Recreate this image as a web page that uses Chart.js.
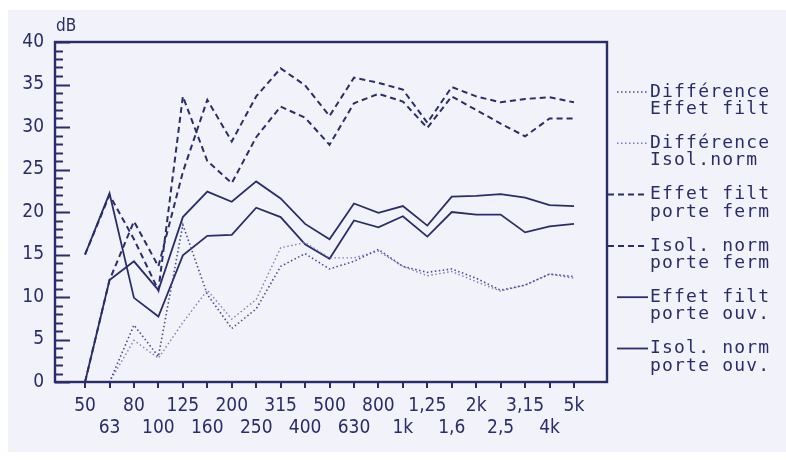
<!DOCTYPE html>
<html><head><meta charset="utf-8">
<script src="https://cdn.jsdelivr.net/npm/chart.js@4"></script>
<style>html,body{margin:0;padding:0;background:#fff}#c{display:block}</style>
</head><body><canvas id="c" width="786" height="460"></canvas>
<script>
const categories = ['50','63','80','100','125','160','200','250','315','400','500','630','800','1k','1,25','1,6','2k','2,5','3,15','4k','5k'];
const yTicks = [0,5,10,15,20,25,30,35,40];
const diffEffetFilt   = [0, 0, 6.7, 3.0, 18.5, 10.3, 6.3, 8.6, 13.6, 15.1, 13.3, 14.2, 15.6, 13.6, 12.9, 13.3, 12.2, 10.8, 11.4, 12.7, 12.4];
const diffIsolNorm    = [0, 0, 4.9, 2.8, 7.0, 10.8, 7.4, 9.7, 15.8, 16.4, 14.6, 14.6, 15.4, 13.6, 12.5, 13.0, 11.8, 10.7, 11.4, 12.7, 12.2];
const effetFiltFerm   = [15, 22.0, 16.8, 10.8, 33.6, 26.0, 23.4, 28.8, 32.4, 31.1, 27.9, 32.8, 33.9, 33.0, 29.9, 33.6, 32.0, 30.4, 28.9, 31.0, 31.0];
const isolNormFerm    = [0, 12.0, 18.9, 13.6, 24.7, 33.2, 28.3, 33.6, 36.9, 34.9, 31.3, 35.8, 35.2, 34.4, 30.5, 34.7, 33.6, 32.9, 33.3, 33.5, 32.9];
const effetFiltOuv    = [15, 22.2, 9.9, 7.7, 14.9, 17.2, 17.3, 20.5, 19.4, 16.2, 14.5, 19.0, 18.2, 19.5, 17.1, 20.0, 19.7, 19.7, 17.6, 18.3, 18.6];
const isolNormOuv     = [0, 12.0, 14.2, 10.8, 19.4, 22.4, 21.2, 23.6, 21.6, 18.6, 16.8, 21.0, 19.9, 20.7, 18.4, 21.8, 21.9, 22.1, 21.7, 20.8, 20.7];

const INK = '#2b2c6a';
const TXT = '#2b2c6c';
const BG = '#f2f2fa';
const pts = a => a.map((v, i) => ({x: i, y: v}));

const paper = {
  id: 'paper',
  beforeDraw(chart) {
    const c = chart.ctx;
    c.save();
    c.fillStyle = '#ffffff';
    c.fillRect(0, 0, chart.width, chart.height);
    c.fillStyle = BG;
    c.fillRect(8, 10, chart.width - 8, chart.height - 18);
    c.restore();
  },
  afterDraw(chart) {
    const c = chart.ctx, a = chart.chartArea, ys = chart.scales.y;
    c.save();
    c.strokeStyle = INK;
    c.lineWidth = 2.4;
    c.strokeRect(a.left, a.top, a.right - a.left, a.bottom - a.top);
    c.lineWidth = 2;
    for (let v = 0; v <= 40; v++) {
      const y = Math.round(ys.getPixelForValue(v)) + 0.5;
      const len = v % 5 === 0 ? 15 : 8;
      c.beginPath(); c.moveTo(a.left, y); c.lineTo(a.left + len, y); c.stroke();
    }
    c.fillStyle = TXT;
    c.font = '17px "DejaVu Sans Condensed", "DejaVu Sans"';
    c.textBaseline = 'bottom';
    c.textAlign = 'left';
    c.fillText('dB', a.left + 1, a.top - 7);
    // legend
    const x0 = a.right + 4, x1 = a.right + 41, tx = a.right + 43;
    c.font = '18px "DejaVu Sans Mono"';
    c.letterSpacing = '1.2px';
    c.textBaseline = 'middle';
    chart.data.datasets.forEach((ds, i) => {
      const y = a.top + 50 + i * 51.3;
      c.save();
      c.strokeStyle = ds.borderColor;
      c.lineWidth = ds.borderWidth;
      c.setLineDash(ds.borderDash || []);
      c.beginPath(); c.moveTo(ds.borderDash && ds.borderDash[0] > 3 ? a.right + 1 : x0 + 6, y); c.lineTo(x1, y); c.stroke();
      c.restore();
      ds.label.split('\n').forEach((t, k) => c.fillText(t, tx, y + k * 17.5));
    });
    c.restore();
  }
};

new Chart(document.getElementById('c'), {
  type: 'line',
  plugins: [paper],
  data: {
    datasets: [
      {label: 'Différence\nEffet filt', data: pts(diffEffetFilt), borderColor: '#4a4b95', borderWidth: 1.6, borderDash: [1.5, 2.5]},
      {label: 'Différence\nIsol.norm', data: pts(diffIsolNorm), borderColor: '#7b7cc0', borderWidth: 1.4, borderDash: [1.5, 2.5]},
      {label: 'Effet filt\nporte ferm', data: pts(effetFiltFerm), borderColor: INK, borderWidth: 2, borderDash: [6, 4]},
      {label: 'Isol. norm\nporte ferm', data: pts(isolNormFerm), borderColor: INK, borderWidth: 2, borderDash: [6, 4]},
      {label: 'Effet filt\nporte ouv.', data: pts(effetFiltOuv), borderColor: INK, borderWidth: 1.8},
      {label: 'Isol. norm\nporte ouv.', data: pts(isolNormOuv), borderColor: INK, borderWidth: 1.8}
    ]
  },
  options: {
    responsive: false,
    animation: false,
    layout: {padding: {left: 0, right: 179, top: 42, bottom: 0}},
    elements: {point: {radius: 0}, line: {tension: 0, fill: false}},
    plugins: {legend: {display: false}, tooltip: {enabled: false}},
    scales: {
      x: {
        type: 'linear', min: -1.23, max: 21.35,
        afterBuildTicks: s => { s.ticks = categories.map((_, i) => ({value: i})); },
        afterFit: s => { s.height = 78; },
        grid: {display: true, drawOnChartArea: false, drawTicks: true, tickLength: 6, color: INK, lineWidth: 2},
        border: {display: false},
        ticks: {
          autoSkip: false, maxRotation: 0, color: TXT, padding: 7,
          font: {family: '"DejaVu Sans Condensed", "DejaVu Sans"', size: 19, lineHeight: 1.15},
          callback: v => { const i = Math.round(v); return i % 2 === 0 ? categories[i] : ['', categories[i]]; }
        }
      },
      y: {
        min: 0, max: 40,
        afterBuildTicks: s => { s.ticks = yTicks.map(v => ({value: v})); },
        afterFit: s => { s.width = 55; },
        grid: {display: false},
        border: {display: false},
        ticks: {color: TXT, padding: 3, font: {family: '"DejaVu Sans Condensed", "DejaVu Sans"', size: 19}}
      }
    }
  }
});
</script>
</body></html>
